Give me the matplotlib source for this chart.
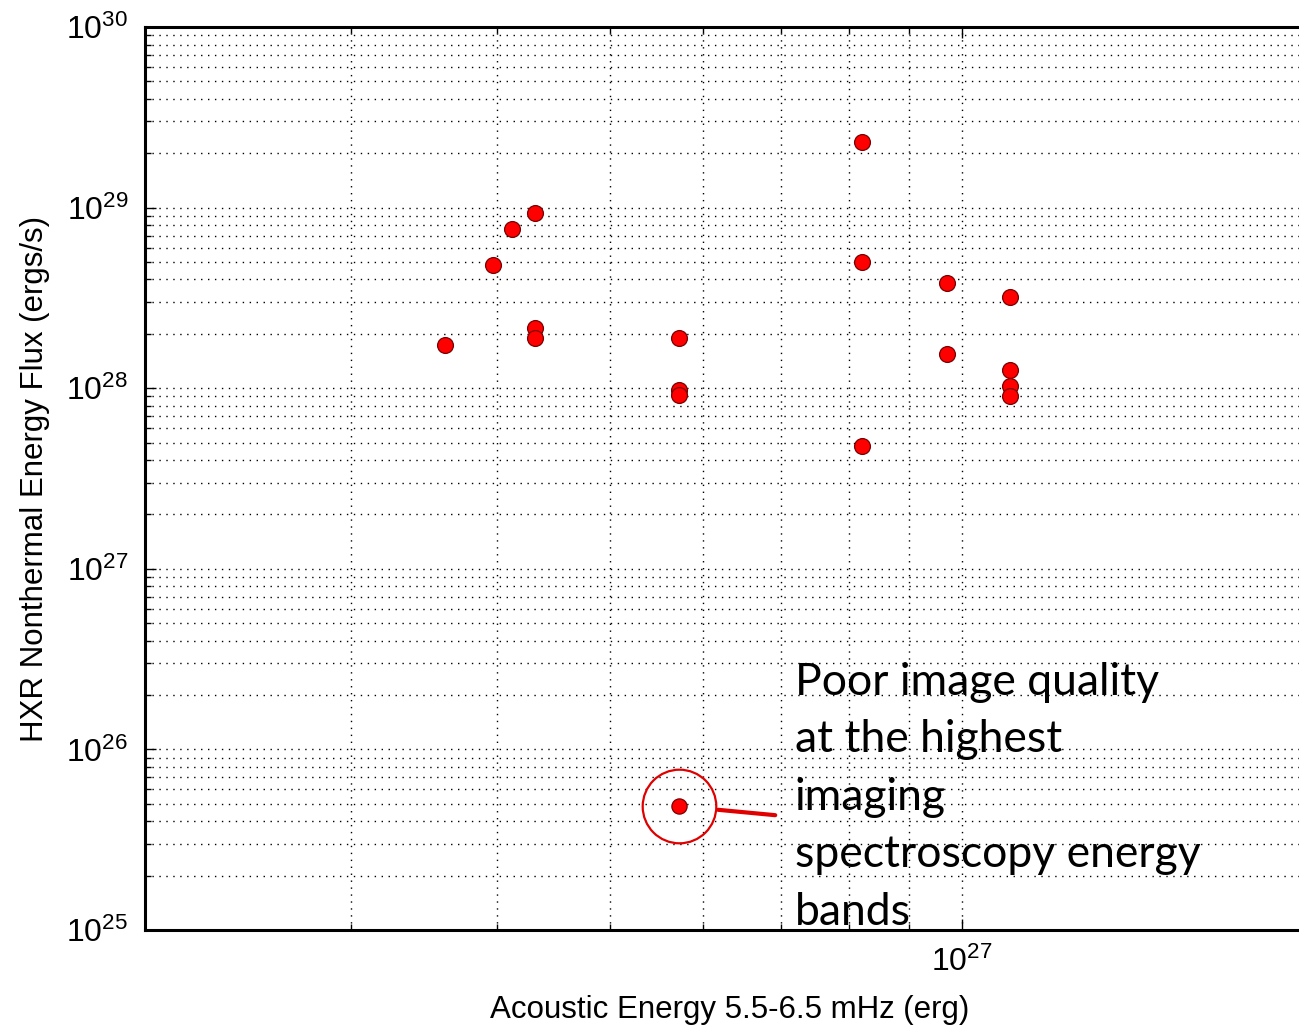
# HXR nonthermal energy flux vs acoustic energy (log-log scatter)
import numpy as np
import matplotlib.pyplot as plt
from matplotlib.ticker import LogLocator, NullFormatter

plt.rcParams['font.family'] = ['Liberation Sans', 'DejaVu Sans']
plt.rcParams['mathtext.default'] = 'regular'

# ---- data ----
acoustic_erg = [3.61e26, 3.97e26, 4.12e26, 4.31e26, 4.31e26, 4.31e26,
                5.73e26, 5.73e26, 5.73e26,
                8.21e26, 8.21e26, 8.21e26,
                9.71e26, 9.71e26,
                1.10e27, 1.10e27, 1.10e27, 1.10e27]
hxr_flux = [1.73e28, 4.8e28, 7.6e28, 9.3e28, 2.15e28, 1.89e28,
            1.89e28, 9.75e27, 9.15e27,
            2.30e29, 4.99e28, 4.77e27,
            3.81e28, 1.54e28,
            3.19e28, 1.26e28, 1.03e28, 9.0e27]
outlier = (5.73e26, 4.85e25)
note = "Poor image quality\nat the highest\nimaging\nspectroscopy energy\nbands"

# ---- style ----
W, H = 1299, 1029
FS_LABEL = 22.5
FS_TICK = 23
FS_NOTE = 32

fig = plt.figure(figsize=(W / 100, H / 100), dpi=100)
ax = fig.add_axes([145 / W, 99 / H, (1314 - 145) / W, (930 - 27) / H])
ax.set_xscale('log'); ax.set_yscale('log')
ax.set_xlim(2e26, 2e27)
ax.set_ylim(1e25, 1e30)

ax.scatter(acoustic_erg, hxr_flux, s=130, color='#ff0000', edgecolors='#7a0000',
           linewidths=0.9, zorder=3)
ax.scatter([outlier[0]], [outlier[1]], s=120, color='#ff0000', edgecolors='#7a0000',
           linewidths=0.9, zorder=3)

# circle + connector + note
ax.plot([outlier[0]], [outlier[1]], marker='o', ms=53, mfc='none', mec='#e00000',
        mew=1.6, zorder=4, clip_on=False)
ax.annotate('', xy=outlier, xytext=(69, -6.5), textcoords='offset points',
            arrowprops=dict(arrowstyle='-', color='#e00000', lw=3, shrinkA=0, shrinkB=28))
ax.annotate(note, xy=outlier, xytext=(83, 104), textcoords='offset points',
            ha='left', va='top', fontsize=FS_NOTE, family=['Lato', 'DejaVu Sans'],
            linespacing=1.5, zorder=5)

# axes, ticks, grid
ax.yaxis.set_major_locator(LogLocator(base=10, numticks=10))
ax.yaxis.set_minor_locator(LogLocator(base=10, subs=np.arange(2, 10), numticks=50))
ax.xaxis.set_minor_locator(LogLocator(base=10, subs=np.arange(2, 10), numticks=50))
ax.xaxis.set_minor_formatter(NullFormatter())
ax.yaxis.set_minor_formatter(NullFormatter())
ax.grid(True, which='both', linestyle=(0, (1, 4)), color='black', lw=1.0)
ax.tick_params(which='both', direction='in', top=True, right=True, labelsize=FS_TICK)
ax.tick_params(which='major', length=8, width=1)
ax.tick_params(which='minor', length=4, width=1)
ax.tick_params(axis='x', pad=12)
ax.tick_params(axis='y', pad=12)
for sp in ax.spines.values():
    sp.set_linewidth(2.2)

ax.set_xlabel('Acoustic Energy 5.5-6.5 mHz (erg)', fontsize=FS_LABEL, labelpad=12)
ax.set_ylabel('HXR Nonthermal Energy Flux (ergs/s)', fontsize=FS_LABEL, labelpad=12)

plt.savefig('out.png', dpi=100)
